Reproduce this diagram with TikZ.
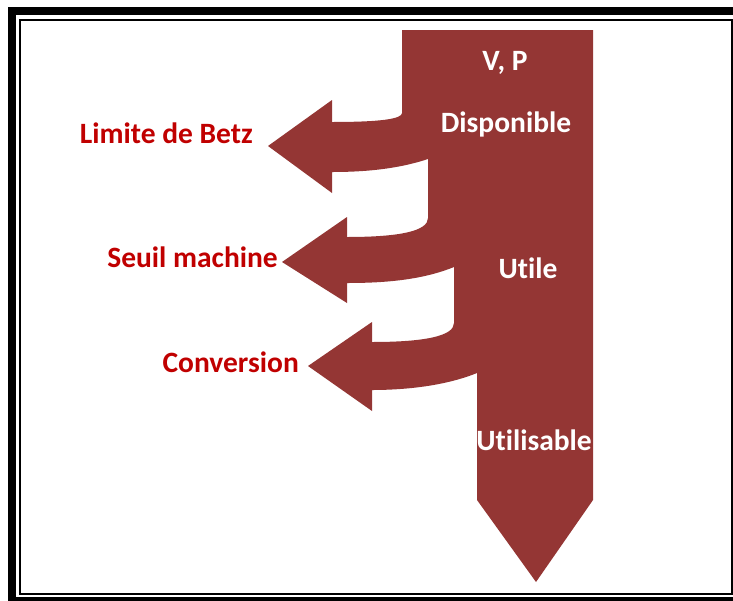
\documentclass[tikz,border=0pt]{standalone}
\usepackage{fontspec}
\setmainfont[Ligatures={NoCommon}]{Carlito}
\usetikzlibrary{positioning}
\definecolor{flowred}{RGB}{148,54,52}
\definecolor{lossred}{RGB}{192,0,0}

\begin{document}
\begin{tikzpicture}[x=1pt, y=-1pt,
flowtext/.style={text=white, font=\bfseries\fontsize{29.5}{34}\selectfont, inner sep=0pt},
losstext/.style={text=lossred, font=\bfseries\fontsize{29.5}{34}\selectfont, inner sep=0pt},
framethick/.style={draw=black, line width=8pt},
framethin/.style={draw=black, line width=2pt}]
\useasboundingbox (0,0) rectangle (733,600);
\clip (0,0) rectangle (733,600);

% frame
\draw[framethick] (12,11) rectangle (745,601);
\draw[framethin] (20,20) rectangle (732,594);

% flow
\fill[flowred] (402,30) -- (593,30) -- (593,500) -- (536,582) -- (477,500) -- (477,373)
  .. controls (445,386) and (405,390) .. (372,390) -- (372,411) -- (308,366) -- (372,322) -- (372,342)
  .. controls (425,342) and (454,336) .. (454,323) -- (454,267)
  .. controls (422,280) and (385,283) .. (347,283) -- (347,303) -- (282,262) -- (347,217) -- (347,237)
  .. controls (400,237) and (428,231) .. (428,218) -- (428,159)
  .. controls (398,169) and (365,172) .. (332,172) -- (332,193) -- (268,146) -- (332,100) -- (332,122)
  .. controls (380,122) and (402,119) .. (402,113) -- cycle;

\node[flowtext, anchor=base] (vp) at (505,70) {V, P};
\node[flowtext, anchor=base] (disp) at (506,132) {Disponible};
\node[flowtext, anchor=base] (util) at (528,278) {Utile};
\node[flowtext, anchor=base] (usab) at (534,450) {Utilisable};

\node[losstext, anchor=base east] (betz) at (253,143) {Limite de Betz};
\node[losstext, anchor=base east] (seuil) at (278,267) {Seuil machine};
\node[losstext, anchor=base east] (conv) at (299,372) {Conversion};
\end{tikzpicture}
\end{document}
